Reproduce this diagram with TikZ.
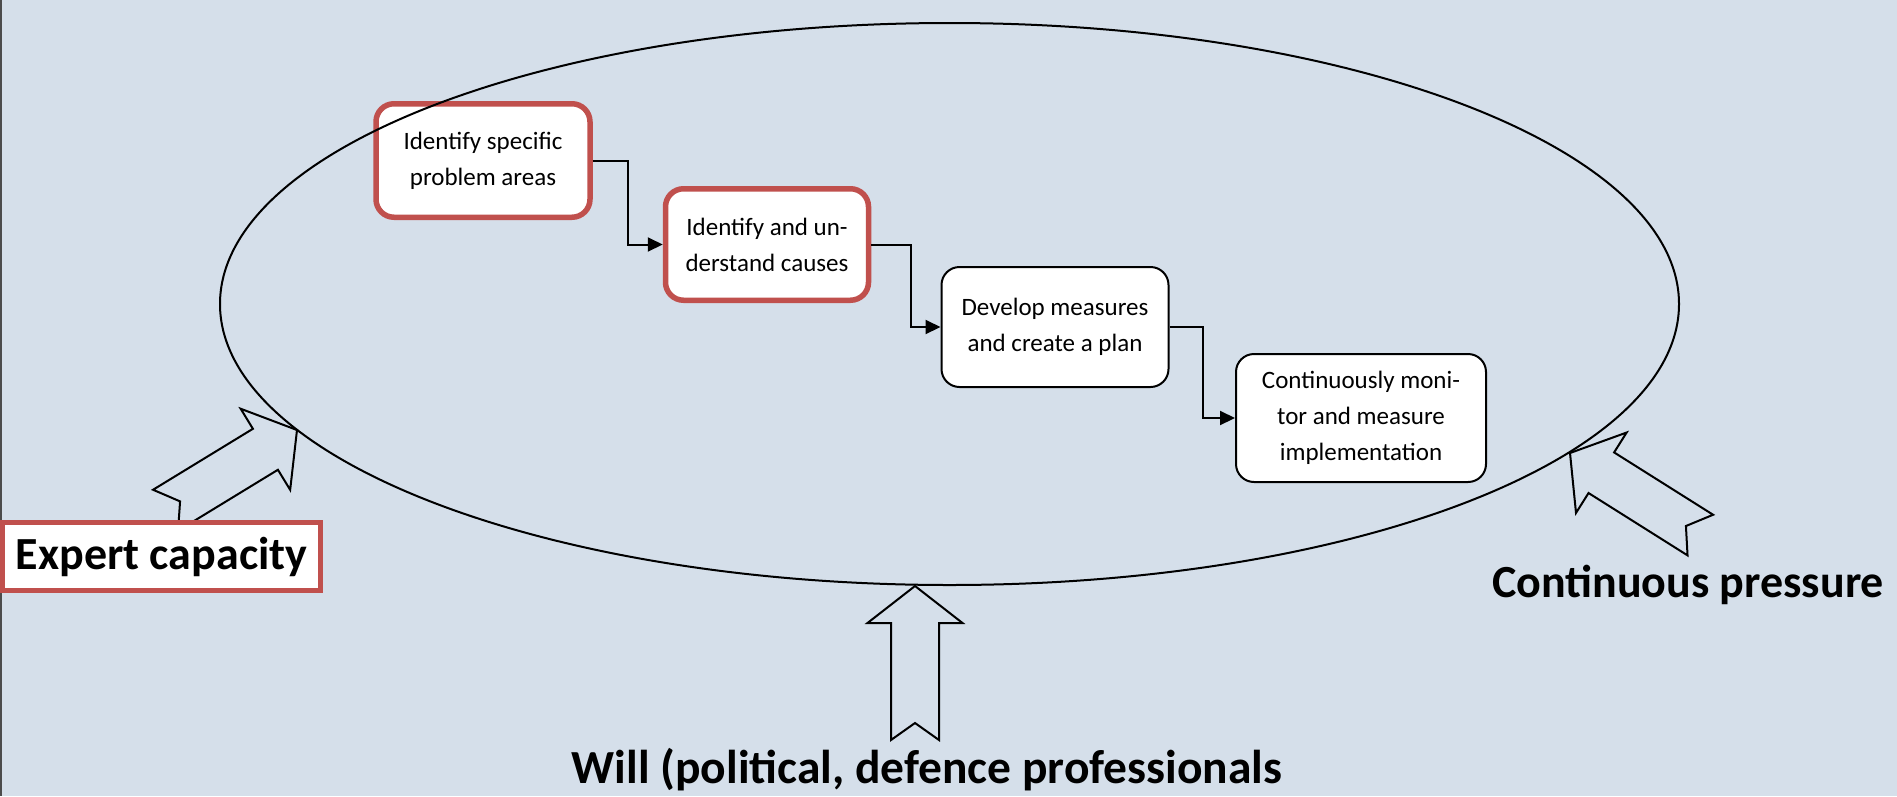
\documentclass[tikz,border=0pt]{standalone}
\usepackage{fontspec}
\setmainfont{Carlito}
\usetikzlibrary{arrows.meta}

\definecolor{slide}{HTML}{D5DFEA}
\definecolor{boxred}{HTML}{C0504D}

\tikzset{
  stagebox/.style={draw=black,line width=2pt,fill=white,rounded corners=18pt,
    align=center,inner sep=0pt,font=\fontsize{25}{36}\selectfont},
  keybox/.style={stagebox,draw=boxred,line width=5.5pt},
  flow/.style={line width=2pt,-{Triangle[length=15pt,width=14pt]}},
  push/.style={draw=black,line width=2pt,line join=miter},
  force/.style={font=\fontsize{46}{50}\selectfont\bfseries},
}

%% outlined block arrow: tip, rotation
\newcommand{\pusharrow}[2]{%
  \draw[push,shift={#1},rotate=#2] (0,0) -- (47.5,37) -- (24,37) -- (24,154)
    -- (0,137) -- (-24,154) -- (-24,37) -- (-47.5,37) -- cycle;}

\begin{document}
\begin{tikzpicture}[x=1pt,y=-1pt]
        %% Background
        \useasboundingbox[fill=slide] (0,0) rectangle (1897,796);
        \draw[line width=2pt,black!70] (1,0) -- (1,796);
        %% Process steps
        \node[keybox,minimum width=214,minimum height=113.5] (areas) at (483,160.5) {Identify specific\\problem areas};
        \node[keybox,minimum width=203,minimum height=111.5] (causes) at (767,244.5) {Identify and un-\\derstand causes};
        \node[stagebox,minimum width=227,minimum height=120] (measures) at (1055,327) {Develop measures\\and create a plan};
        \node[stagebox,minimum width=250,minimum height=128] (monitor) at (1361,418) {Continuously moni-\\tor and measure\\implementation};
        \draw[flow] (areas.east) -- ++(35,0) |- (causes.west);
        \draw[flow] (causes.east) -- ++(40,0) |- (measures.west);
        \draw[flow] (measures.east) -- ++(33,0) |- (monitor.west);
        %% Cycle
        \draw[line width=2pt] (949.5,304) ellipse [x radius=729.5,y radius=281];
        %% Forces
        \pusharrow{(297,430)}{-58.6}
        \pusharrow{(915,586)}{0}
        \pusharrow{(1570,453)}{57.8}
        \node[force,draw=boxred,line width=5pt,fill=white,inner sep=0pt,
              minimum width=318,minimum height=68] (expert) at (161.5,556.5) {Expert capacity};
        \node[force,anchor=base] (pressure) at (1688,597) {Continuous pressure};
        \node[force,anchor=base,font=\fontsize{47.5}{52}\selectfont\bfseries] (will) at (927,783) {Will (political, defence professionals};
    \end{tikzpicture}
\end{document}
